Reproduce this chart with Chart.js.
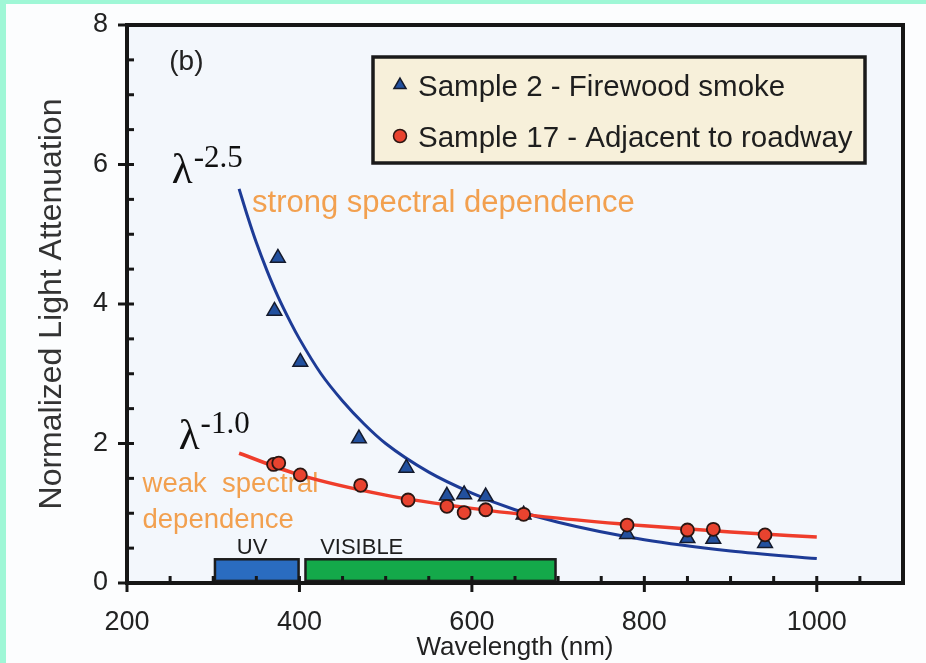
<!DOCTYPE html>
<html>
<head>
<meta charset="utf-8">
<script src="https://cdn.jsdelivr.net/npm/chart.js@4.4.1/dist/chart.umd.min.js"></script>
<style>
  html, body { margin: 0; padding: 0; background: #fcfdfe; }
  #wrap { position: relative; width: 926px; height: 663px; }
</style>
</head>
<body>
<div id="wrap"><canvas id="myChart" width="926" height="663"></canvas></div>
<script>
// measured points (wavelength in nm, normalized attenuation)
const sample2Wavelength = [371, 375, 401, 469, 524, 571, 591, 616, 660, 780, 850, 880, 940];
const sample2Attenuation = [3.90, 4.66, 3.17, 2.07, 1.65, 1.25, 1.27, 1.24, 0.98, 0.70, 0.64, 0.63, 0.57];
const sample17Wavelength = [370, 376, 401, 471, 526, 571, 591, 616, 660, 780, 850, 880, 940];
const sample17Attenuation = [1.70, 1.72, 1.55, 1.40, 1.19, 1.10, 1.01, 1.05, 0.985, 0.83, 0.76, 0.77, 0.69];

// power-law fit curves
const fitStrongWavelength = [330, 340, 350, 362, 375, 390, 400, 425, 450, 475, 500, 550, 600, 650, 700, 800, 900, 1000];
const fitStrongValue = [5.65, 5.25, 4.88, 4.49, 4.11, 3.73, 3.50, 3.00, 2.61, 2.28, 2.00, 1.59, 1.29, 1.05, 0.87, 0.62, 0.46, 0.35];
const fitWeakWavelength = [330, 400, 500, 600, 700, 800, 900, 1000];
const fitWeakValue = [1.86, 1.55, 1.26, 1.07, 0.93, 0.82, 0.73, 0.66];

// spectral bands along the bottom
const bandLabels = ['UV', 'VISIBLE'];
const bandStart = [302, 407];
const bandEnd = [399, 697];
const bandColors = ['#2a6cc0', '#14a94a'];

const xTicks = [200, 400, 600, 800, 1000];
const yTicks = [0, 2, 4, 6, 8];

function toPoints(xs, ys) {
    return xs.map(function (x, i) { return { x: x, y: ys[i] }; });
}

const sansFont = '"Liberation Sans", Arial, sans-serif';
const serifFont = '"Liberation Serif", "Times New Roman", serif';
const orange = '#f2a04f';

function drawLambda(ctx, exponent, px, py) {
    ctx.fillStyle = '#111';
    ctx.textAlign = 'left';
    ctx.textBaseline = 'alphabetic';
    ctx.font = '43px ' + serifFont;
    ctx.fillText('\u03bb', px, py);
    const w = ctx.measureText('\u03bb').width;
    ctx.font = '31px ' + serifFont;
    ctx.fillText(exponent, px + w + 1, py - 16);
}

function drawText(ctx, text, px, py, size, color, align) {
    ctx.fillStyle = color;
    ctx.textAlign = align || 'left';
    ctx.textBaseline = 'alphabetic';
    ctx.font = size + 'px ' + sansFont;
    ctx.fillText(text, px, py);
}

const decor = {
    id: 'decor',
    beforeDraw(chart) {
        const { ctx, chartArea: a, width, height } = chart;
        ctx.save();
        ctx.fillStyle = '#fcfdfe';
        ctx.fillRect(0, 0, width, height);
        ctx.fillStyle = '#9ff7d6';
        ctx.fillRect(0, 0, width, 4);
        ctx.fillRect(0, 0, 6, height);
        ctx.fillStyle = '#f3f7fc';
        ctx.fillRect(a.left, a.top, a.right - a.left, a.bottom - a.top);
        ctx.restore();
    },
    beforeDatasetsDraw(chart) {
        const { ctx } = chart;
        const x = chart.scales.x, y = chart.scales.y;
        ctx.save();

        // UV / visible bands
        bandLabels.forEach(function (name, i) {
            const x0 = x.getPixelForValue(bandStart[i]);
            const x1 = x.getPixelForValue(bandEnd[i]);
            const y0 = y.getPixelForValue(0.34);
            const y1 = y.getPixelForValue(0.03);
            ctx.fillStyle = bandColors[i];
            ctx.fillRect(x0, y0, x1 - x0, y1 - y0);
            ctx.strokeStyle = '#1c1c1c';
            ctx.lineWidth = 2.5;
            ctx.strokeRect(x0, y0, x1 - x0, y1 - y0);
        });
        drawText(ctx, bandLabels[0], x.getPixelForValue(345), y.getPixelForValue(0.416), 22, '#1e1e1e', 'center');
        drawText(ctx, bandLabels[1], x.getPixelForValue(424), y.getPixelForValue(0.416), 22, '#1e1e1e', 'left');

        // annotations
        drawText(ctx, '(b)', x.getPixelForValue(249), y.getPixelForValue(7.36), 28, '#222');
        drawLambda(ctx, '-2.5', x.getPixelForValue(252), y.getPixelForValue(5.735));
        drawLambda(ctx, '-1.0', x.getPixelForValue(260), y.getPixelForValue(1.92));
        drawText(ctx, 'strong spectral dependence', x.getPixelForValue(345), y.getPixelForValue(5.32), 31, orange);
        drawText(ctx, 'weak  spectral', x.getPixelForValue(218), y.getPixelForValue(1.305), 27.5, orange);
        drawText(ctx, 'dependence', x.getPixelForValue(218), y.getPixelForValue(0.789), 27.5, orange);
        ctx.restore();
    },
    afterDatasetsDraw(chart) {
        const { ctx, chartArea: a } = chart;
        const x = chart.scales.x, y = chart.scales.y;
        ctx.save();
        ctx.strokeStyle = '#161616';
        ctx.lineCap = 'butt';

        // minor ticks point inward, major ticks cross the axis
        ctx.lineWidth = 3;
        for (let v = 200; v < 1100; v += 50) {
            const px = x.getPixelForValue(v);
            const major = v % 200 === 0;
            ctx.beginPath();
            ctx.moveTo(px, a.bottom - 7);
            ctx.lineTo(px, a.bottom + (major ? 9 : 0));
            ctx.stroke();
        }
        for (let v = 0; v <= 8; v += 0.5) {
            const py = y.getPixelForValue(v);
            const major = v % 2 === 0;
            ctx.beginPath();
            ctx.moveTo(a.left - (major ? 9 : 0), py);
            ctx.lineTo(a.left + 7, py);
            ctx.stroke();
        }

        // frame
        ctx.lineWidth = 4;
        ctx.strokeRect(a.left, a.top, a.right - a.left, a.bottom - a.top);

        // legend box
        const bx = a.left + 246, by = a.top + 32, bw = 492, bh = 106;
        ctx.fillStyle = '#f7f0da';
        ctx.fillRect(bx, by, bw, bh);
        ctx.lineWidth = 3.5;
        ctx.strokeStyle = '#1a1a1a';
        ctx.strokeRect(bx, by, bw, bh);

        const rows = [chart.data.datasets[0], chart.data.datasets[1]];
        const sizes = [7, 6.5];
        rows.forEach(function (ds, i) {
            const cy = by + 28 + i * 51;
            ctx.fillStyle = ds.pointBackgroundColor;
            ctx.strokeStyle = ds.pointBorderColor;
            ctx.lineWidth = 1.5;
            Chart.helpers.drawPoint(ctx, {
                pointStyle: ds.pointStyle, radius: sizes[i], rotation: 0, borderWidth: 1.5
            }, bx + 27, cy);
            drawText(ctx, ds.label, bx + 45, cy + 10.5, 29.5, '#1e1e1e');
        });
        ctx.restore();
    }
};

const ctx = document.getElementById('myChart').getContext('2d');

const config = {
    type: 'scatter',
    data: {
        datasets: [{
            label: 'Sample 2 - Firewood smoke',
            data: toPoints(sample2Wavelength, sample2Attenuation),
            pointStyle: 'triangle',
            pointRadius: 8.5,
            pointBackgroundColor: '#22509e',
            pointBorderColor: '#141a2c',
            pointBorderWidth: 1.5,
            showLine: false,
            order: 2
        }, {
            label: 'Sample 17 - Adjacent to roadway',
            data: toPoints(sample17Wavelength, sample17Attenuation),
            pointStyle: 'circle',
            pointRadius: 6.5,
            pointBackgroundColor: '#e8432f',
            pointBorderColor: '#2a1612',
            pointBorderWidth: 1.8,
            showLine: false,
            order: 1
        }, {
            label: 'fit -2.5',
            data: toPoints(fitStrongWavelength, fitStrongValue),
            showLine: true,
            borderColor: '#1d3b96',
            borderWidth: 3,
            pointRadius: 0,
            cubicInterpolationMode: 'monotone',
            fill: false,
            order: 4
        }, {
            label: 'fit -1.0',
            data: toPoints(fitWeakWavelength, fitWeakValue),
            showLine: true,
            borderColor: '#ef3d2b',
            borderWidth: 3.5,
            pointRadius: 0,
            cubicInterpolationMode: 'monotone',
            fill: false,
            order: 3
        }]
    },
    options: {
        responsive: false,
        animation: false,
        events: [],
        layout: { padding: { top: 25, right: 23, left: 0, bottom: 0 } },
        plugins: {
            legend: { display: false },
            tooltip: { enabled: false }
        },
        scales: {
            x: {
                type: 'linear',
                min: 200,
                max: 1100,
                afterFit: function (scale) {
                    scale.height = 80;
                    scale.paddingLeft = 0;
                    scale.paddingRight = 0;
                },
                afterBuildTicks: function (scale) {
                    scale.ticks = xTicks.map(function (v) { return { value: v }; });
                },
                grid: { display: false, drawTicks: false },
                border: { display: false },
                ticks: {
                    padding: 23,
                    color: '#222',
                    callback: function (value) { return String(value); },
                    font: { family: sansFont, size: 27 }
                },
                title: {
                    display: true,
                    text: 'Wavelength (nm)',
                    color: '#222',
                    padding: { top: 0, bottom: 0 },
                    font: { family: sansFont, size: 26 }
                }
            },
            y: {
                type: 'linear',
                min: 0,
                max: 8,
                afterFit: function (scale) {
                    scale.width = 127;
                    scale.paddingTop = 0;
                    scale.paddingBottom = 0;
                },
                afterBuildTicks: function (scale) {
                    scale.ticks = yTicks.map(function (v) { return { value: v }; });
                },
                grid: { display: false, drawTicks: false },
                border: { display: false },
                ticks: {
                    padding: 19,
                    color: '#222',
                    callback: function (value) { return String(value); },
                    font: { family: sansFont, size: 27 }
                },
                title: {
                    display: true,
                    text: 'Normalized Light Attenuation',
                    color: '#333',
                    padding: { top: 33, bottom: 0 },
                    font: { family: sansFont, size: 32 }
                }
            }
        }
    },
    plugins: [decor]
};

const myChart = new Chart(ctx, config);
</script>
</body>
</html>
